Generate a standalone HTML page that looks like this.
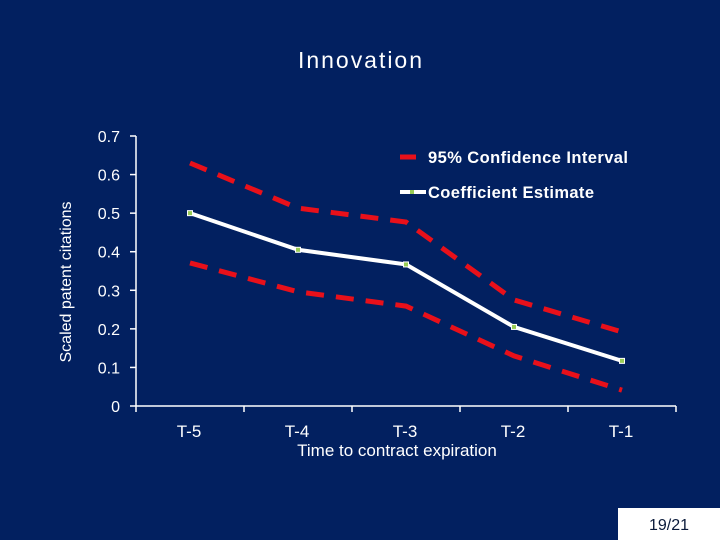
<!DOCTYPE html>
<html><head><meta charset="utf-8"><style>
body{margin:0;background:#022060;}
svg{display:block}
text{font-family:"Liberation Sans",sans-serif;}
</style></head><body>
<svg width="720" height="540" xmlns="http://www.w3.org/2000/svg">
<rect width="720" height="540" fill="#022060"/>
<text x="360" y="68" text-anchor="middle" font-size="23" fill="#fff" textLength="124">Innovation</text>
<text transform="translate(71,282) rotate(-90)" text-anchor="middle" font-size="16" fill="#fff">Scaled patent citations</text>
<text x="397" y="456" text-anchor="middle" font-size="17" fill="#fff">Time to contract expiration</text>
<g id="axes"></g>
<g id="series"></g>
<g>
<line x1="400" y1="157" x2="416" y2="157" stroke="#e8101a" stroke-width="5"/>
<text x="428" y="163" font-size="16.5" font-weight="bold" fill="#fff" textLength="200">95% Confidence Interval</text>
<line x1="400" y1="192" x2="426" y2="192" stroke="#fff" stroke-width="4"/>
<rect x="410" y="190" width="4" height="4" fill="#9c5"/>
<text x="428" y="198" font-size="16.5" font-weight="bold" fill="#fff" textLength="166">Coefficient Estimate</text>
</g>
<rect x="618" y="508" width="102" height="32" fill="#fff"/>
<text x="669" y="530" text-anchor="middle" font-size="16" fill="#0a1a3a">19/21</text>
</svg>
<script>
const categories=["T-5","T-4","T-3","T-2","T-1"];
const coef=[0.50,0.405,0.367,0.205,0.117];
const upper=[0.63,0.513,0.477,0.275,0.192];
const lower=[0.371,0.296,0.259,0.13,0.041];
const yTicks=[0,0.1,0.2,0.3,0.4,0.5,0.6,0.7];
const yTickLabels=["0","0.1","0.2","0.3","0.4","0.5","0.6","0.7"];
const NS="http://www.w3.org/2000/svg";
const x0=136,x1=676,y0=406,yTop=136,yMax=0.7;
const bw=(x1-x0)/categories.length;
const xS=i=>x0+bw*(i+0.5);
const yS=v=>y0-(v/yMax)*(y0-yTop);
function mk(tag,attrs,parent){const e=document.createElementNS(NS,tag);for(const k in attrs)e.setAttribute(k,attrs[k]);parent.appendChild(e);return e;}
const ax=document.getElementById('axes');
let e=mk('line',{x1:x0,y1:yTop,x2:x0,y2:y0,stroke:'#fff','stroke-width':1.5},ax);


e=mk('line',{x1:x0,y1:y0,x2:x1,y2:y0,stroke:'#fff','stroke-width':1.5},ax);


yTicks.forEach((v,i)=>{
 const t=mk('line',{x1:x0-6,y1:yS(v),x2:x0,y2:yS(v),stroke:'#fff','stroke-width':1.5},ax);
 
 
 const l=mk('text',{x:x0-16,y:yS(v)+6,'text-anchor':'end','font-size':16,fill:'#fff'},ax);
 l.textContent=yTickLabels[i];
 
 
});
for(let i=0;i<=categories.length;i++){
 const t=mk('line',{x1:x0+bw*i,y1:y0,x2:x0+bw*i,y2:y0+6,stroke:'#fff','stroke-width':1.5},ax);
 
 
}
categories.forEach((c,i)=>{
 const l=mk('text',{x:xS(i)-1,y:437,'text-anchor':'middle','font-size':17,fill:'#fff'},ax);
 l.textContent=c;
 
 
});
const sg=document.getElementById('series');
const pts=a=>a.map((v,i)=>xS(i)+','+yS(v)).join(' ');
e=mk('polyline',{points:pts(upper),fill:'none',stroke:'#e8101a','stroke-width':5,'stroke-dasharray':'18,12'},sg);


e=mk('polyline',{points:pts(lower),fill:'none',stroke:'#e8101a','stroke-width':5,'stroke-dasharray':'18,12'},sg);


e=mk('polyline',{points:pts(coef),fill:'none',stroke:'#fff','stroke-width':4},sg);


coef.forEach((v,i)=>{
 const m=mk('rect',{x:xS(i)-2.5,y:yS(v)-2.5,width:5,height:5,fill:'#9c5',stroke:'#fff','stroke-width':1},sg);
 
 
});
</script>
</body></html>
